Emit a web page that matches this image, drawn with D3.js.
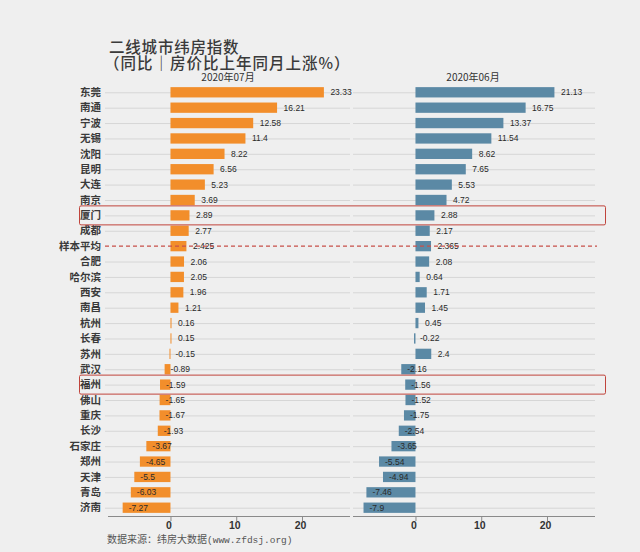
<!DOCTYPE html>
<html><head><meta charset="utf-8">
<script src="https://cdn.jsdelivr.net/npm/d3@7"></script>
<style>
html,body{margin:0;padding:0;background:#efefef;}
svg{display:block;}
</style></head>
<body>
<svg id="chart" width="640" height="552"></svg>
<script>
const cities = ["东莞","南通","宁波","无锡","沈阳","昆明","大连","南京","厦门","成都","样本平均","合肥","哈尔滨","西安","南昌","杭州","长春","苏州","武汉","福州","佛山","重庆","长沙","石家庄","郑州","天津","青岛","济南"];
const july = [23.33,16.21,12.58,11.4,8.22,6.56,5.23,3.69,2.89,2.77,2.425,2.06,2.05,1.96,1.21,0.16,0.15,-0.15,-0.89,-1.59,-1.65,-1.67,-1.93,-3.67,-4.65,-5.5,-6.03,-7.27];
const june = [21.13,16.75,13.37,11.54,8.62,7.65,5.53,4.72,2.88,2.17,2.365,2.08,0.64,1.71,1.45,0.45,-0.22,2.4,-2.16,-1.56,-1.52,-1.75,-2.54,-3.65,-5.54,-4.94,-7.46,-7.9];
const panelTitles = ["2020年07月","2020年06月"];
const tickValues = [0,10,20];
const highlighted = ["厦门","福州"];
const averageLabel = "样本平均";
const titleLines = ["二线城市纬房指数","（同比｜房价比上年同月上涨%）"];
const sourceText = ["数据来源：纬房大数据","(www.zfdsj.org)"];

const svg = d3.select("#chart");
const cjk = "'Noto Sans CJK SC','Noto Sans',sans-serif";
const latin = "'Liberation Sans',Arial,sans-serif";

svg.append("rect").attr("width",640).attr("height",552).attr("fill","#efefef");

const y = d3.scaleBand().domain(cities).range([84.6,515.4]).paddingInner(0.33).paddingOuter(0.165);
const domain = [-9.5,27.3];
const panels = [
  {data: july, color:"#f28e2b", x: d3.scaleLinear().domain(domain).range([108,350]), title: panelTitles[0], tx:228},
  {data: june, color:"#5b89a5", x: d3.scaleLinear().domain(domain).range([353,595]), title: panelTitles[1], tx:473}
];

// title (one text element, two lines)
const title = svg.append("text")
  .attr("font-family",cjk).attr("font-size",15.5).attr("font-weight",500)
  .attr("fill","#3a3a3a");
title.selectAll("tspan").data(titleLines).join("tspan")
  .attr("x",(d,i)=> i===0?109:104)
  .attr("y",(d,i)=> 53 + i*16)
  .attr("letter-spacing",(d,i)=> i===0?0.8:1.0)
  .text(d=>d);

// category labels
svg.selectAll("text.cat").data(cities).join("text")
  .attr("class","cat")
  .attr("x",101).attr("y",d=>y(d)+y.bandwidth()/2)
  .attr("dy","0.35em").attr("text-anchor","end")
  .attr("font-family",cjk).attr("font-size",10.5).attr("font-weight",700)
  .attr("fill","#3a3a3a").text(d=>d);

panels.forEach((p,pi)=>{
  const g = svg.append("g");
  const x = p.x;
  const [x0,x1] = x.range();
  // grid
  g.selectAll("line.grid").data(cities.filter(c=>c!==averageLabel)).join("line")
    .attr("x1", pi===0? 105 : x0).attr("x2", x1)
    .attr("y1", d=>y(d)+y.bandwidth()/2+0.5).attr("y2", d=>y(d)+y.bandwidth()/2+0.5)
    .attr("stroke","#d6d6d6").attr("stroke-width",1);
  // bars
  g.selectAll("rect.bar").data(p.data).join("rect")
    .attr("x", d=> x(Math.min(0,d)))
    .attr("y", (d,i)=> y(cities[i]))
    .attr("width", d=> Math.max(1, Math.abs(x(d)-x(0))))
    .attr("height", y.bandwidth())
    .attr("fill", p.color);
  // value labels
  g.selectAll("text.val").data(p.data).join("text")
    .attr("x", d=> x(d) + (d<0 ? 6 : 6.5))
    .attr("y", (d,i)=> y(cities[i])+y.bandwidth()/2)
    .attr("dy","0.35em")
    .attr("font-family",latin).attr("font-size",8.5)
    .attr("fill","#2a2a2a").text(d=>String(d));
  // axis
  const axis = d3.axisBottom(x).tickValues(tickValues).tickSize(5).tickPadding(0.5).tickFormat(d3.format("d"));
  const ag = g.append("g").attr("transform","translate(0,516)").call(axis);
  ag.select(".domain").attr("stroke","#8a8a8a").attr("d",`M${x0},0.5H${x1}`);
  ag.selectAll(".tick line").attr("stroke","#8a8a8a");
  ag.selectAll(".tick text").attr("font-family",latin).attr("font-size",10.5).attr("font-weight",700).attr("fill","#333").attr("dx","-2");
  // panel title
  g.append("text").attr("x",p.tx).attr("y",81).attr("text-anchor","middle")
    .attr("font-family",cjk).attr("font-size",10).attr("fill","#333").text(p.title);
});

// average dashed line
const ay = y(averageLabel)+y.bandwidth()/2;
svg.append("line").attr("x1",105).attr("x2",597).attr("y1",ay).attr("y2",ay)
  .attr("stroke","#c8504a").attr("stroke-width",1.2).attr("stroke-dasharray","4,3");

// highlight rectangles
svg.selectAll("rect.hl").data(highlighted).join("rect")
  .attr("class","hl")
  .attr("x",79.5).attr("y",d=>y(d)+y.bandwidth()/2-9.5)
  .attr("width",526).attr("height",19).attr("rx",1.5)
  .attr("fill","none").attr("stroke","#c0443c").attr("stroke-width",1);

// source
const st = svg.append("text").attr("x",107).attr("y",542.5).attr("fill","#555").attr("font-size",10);
st.append("tspan").attr("font-family",cjk).text(sourceText[0]);
st.append("tspan").attr("font-family","'Liberation Mono',monospace").attr("font-size",9.5).text(sourceText[1]);
</script>
</body></html>
